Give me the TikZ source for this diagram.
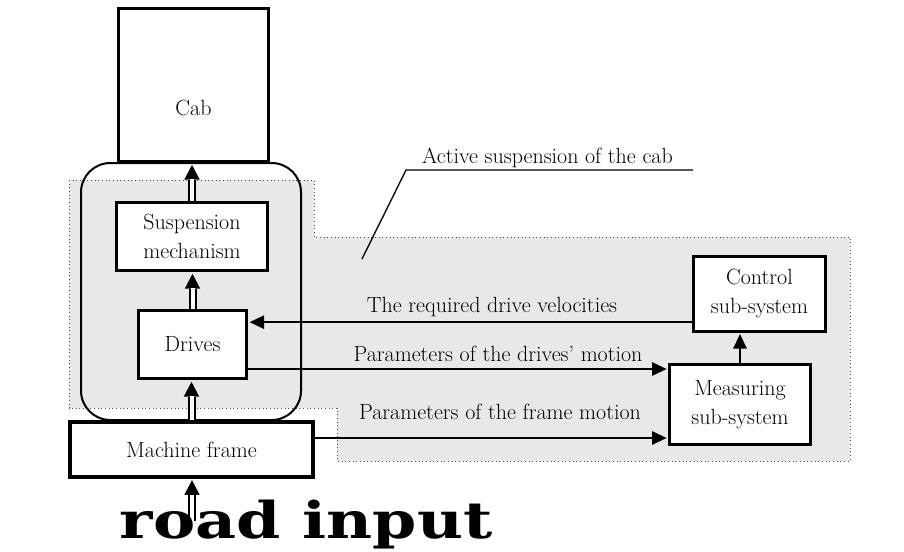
\documentclass[tikz,border=0pt]{standalone}
\usepackage{fontspec}
\newfontfamily\roadfont{DejaVu Serif}
\usetikzlibrary{arrows.meta}

\tikzset{every picture/.style={line width=0.75pt}}
\tikzset{
  txt/.style={font=\fontsize{16.5}{21.75}\selectfont, inner sep=0.75pt},
  thickbox/.style={draw, line width=2.6pt, fill=white, align=center, txt},
  thinbox/.style={draw, line width=2pt, fill=white, align=center, txt},
  sarrow/.style={line width=1.5pt, shorten >=1pt, -{Triangle[length=11pt,width=10pt]}},
  dblarrow/.style={line width=6pt, shorten >=1.2pt, -{Triangle[length=11pt,width=11.5pt,line width=0pt]},
    postaction={draw=white, line width=3pt, -, shorten >=12pt}},
}

\begin{document}
\begin{tikzpicture}[x=0.75pt,y=0.75pt,yscale=-1,xscale=1]
\useasboundingbox (0,0) rectangle (904,551);

%Shape: grey area of the active suspension
\draw [draw=black!70, dotted, fill=black!9] (69,180) -- (314,180) -- (314,237) -- (850,237) -- (850,461) -- (337,461) -- (337,408) -- (69,408) -- cycle;
%Shape: rounded frame round the mechanism
\draw [line width=1.5pt, rounded corners=22pt] (81,163) rectangle (301,420);

%blocks
\node [thickbox, minimum width=112.5pt, minimum height=114.75pt] (cab) at (193.5,85) {};
\node [txt, anchor=base] (cablabel) at (193.5,115) {Cab};
\node [thickbox, minimum width=113pt, minimum height=51pt] (susp) at (192,236.5) {Suspension\\mechanism};
\node [thickbox, minimum width=81pt, minimum height=51pt] (drives) at (192.5,344.5) {Drives};
\node [thickbox, minimum width=182pt, minimum height=41pt] (frame) at (191.5,449.5) {Machine frame};
\node [thinbox, minimum width=99pt, minimum height=56pt] (ctrl) at (759.5,294) {Control\\sub-system};
\node [thinbox, minimum width=106pt, minimum height=60pt] (meas) at (740,404.5) {Measuring\\sub-system};

%double arrows up the chain
\draw [dblarrow] (susp.north) -- (susp.north |- cab.south);
\draw [dblarrow] (drives.north) -- (drives.north |- susp.south);
\draw [dblarrow] (frame.north) -- (frame.north |- drives.south);
\coordinate (road) at (192,521);
\draw [dblarrow] (road) -- (road |- frame.south);

%signals
\path (ctrl.south west) ++(0,-10.5) coordinate (vel);
\draw [sarrow] (vel) -- (vel -| drives.east);
\path (drives.east) ++(0,24.5) coordinate (dm);
\draw [sarrow] (dm) -- (dm -| meas.west);
\path (frame.east) ++(0,-11.5) coordinate (fm);
\draw [sarrow] (fm) -- (fm -| meas.west);
\draw [sarrow] (meas.north) -- (meas.north |- ctrl.south);

\node [txt, anchor=base] (lvel) at (492,312.7) {The required drive velocities};
\node [txt, anchor=base] (ldm) at (498,361) {Parameters of the drives’ motion};
\node [txt, anchor=base] (lfm) at (500,419) {Parameters of the frame motion};

%leader of the label
\coordinate (ltop) at (406,170);
\coordinate (lfoot) at (362,259);
\coordinate (lend) at (693,170);
\draw [line width=1pt] (lfoot) -- (ltop) -- (lend);
\node [txt, anchor=base] (lactive) at (547.5,163) {Active suspension of the cab};

\node [anchor=base, inner sep=0pt, font=\roadfont\bfseries\fontsize{38}{40}\selectfont] (roadinput) at (306,538) {\scalebox{1.25}[1]{road input}};

\end{tikzpicture}
\end{document}
